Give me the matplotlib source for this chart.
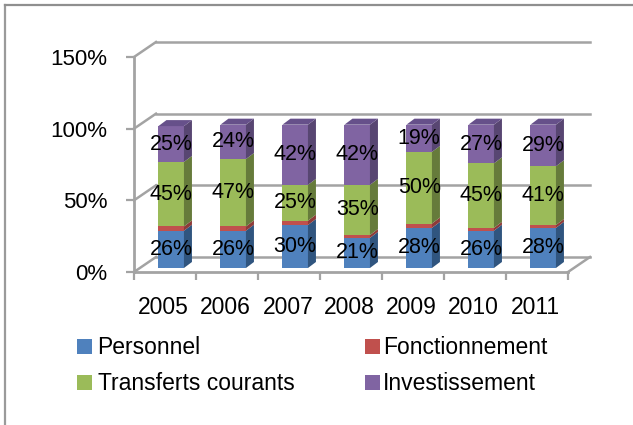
import matplotlib
matplotlib.use("Agg")
import matplotlib.pyplot as plt
from matplotlib.patches import Polygon, Rectangle

years = ["2005", "2006", "2007", "2008", "2009", "2010", "2011"]
names = ["Personnel", "Fonctionnement", "Transferts courants", "Investissement"]
personnel = [26, 26, 30, 21, 28, 26, 28]
fonctionnement = [3, 3, 3, 2, 3, 2, 2]
transferts = [45, 47, 25, 35, 50, 45, 41]
investissement = [25, 24, 42, 42, 19, 27, 29]
y_ticks = [0, 50, 100, 150]

series = [personnel, fonctionnement, transferts, investissement]
front_col = ["#4F81BD", "#C0504D", "#9BBB59", "#8064A2"]
side_col = ["#30557F", "#8E3B39", "#667B3B", "#584672"]
top_col = "#66508A"
grid_col = "#A3A3A3"

W, H = 633, 425
plt.rcParams["font.family"] = ["Liberation Sans", "DejaVu Sans"]

fig = plt.figure(figsize=(W / 100, H / 100), dpi=100)

# page frame
fig.add_artist(plt.Line2D([4.5 / W, 4.5 / W], [0, 1 - 5 / H], color="#9A9A9A", lw=1.6))
fig.add_artist(plt.Line2D([4.5 / W, 1], [1 - 5 / H, 1 - 5 / H], color="#8F8F8F", lw=1.6))

# axes box in pixels: x 134-568, y 272 (0%) - 57 (150%)
ax = fig.add_axes([134 / W, 1 - 272 / H, 434 / W, 215 / H])
ax.set_xlim(0, 7)
ax.set_ylim(0, 150)
ax.patch.set_visible(False)

px_x = 7 / 434
px_y = 150 / 215

for s in ["top", "right"]:
    ax.spines[s].set_visible(False)
for s in ["left", "bottom"]:
    ax.spines[s].set_color(grid_col)
    ax.spines[s].set_linewidth(2)

ax.set_yticks(y_ticks)
ax.set_yticklabels([f"{v}%" for v in y_ticks], fontsize=16)
ax.set_xticks(range(8))
ax.set_xticklabels([])
ax.set_xticks([i + 0.48 for i in range(7)], minor=True)
ax.set_xticklabels(years, minor=True, fontsize=16.5)
ax.tick_params(axis="both", which="major", color=grid_col, width=1.6, length=5.5)
ax.tick_params(axis="x", which="minor", length=0, pad=17)
ax.tick_params(axis="y", pad=13.5)

# walls
dx, dy = 22 * px_x, 15 * px_y
for v in y_ticks:
    ax.plot([0, dx], [v, v + dy], color=grid_col, lw=1.8, clip_on=False, zorder=1)
    ax.plot([dx, 7 + dx], [v + dy, v + dy], color=grid_col, lw=1.8, clip_on=False, zorder=1)
ax.plot([7, 7 + dx], [0, dy], color=grid_col, lw=1.8, clip_on=False, zorder=1)

# bars
bar_w = 25.5 * 7 / 434
lift = 4 * px_y
side_x, side_y = 8 * px_x, 6 * px_y
xs = [i + 0.6 for i in range(len(years))]
bottom = [lift] * len(years)
for values, fc, sc in zip(series, front_col, side_col):
    ax.bar(xs, values, bar_w, bottom=bottom, color=fc, zorder=3, clip_on=False)
    for x, b, v in zip(xs, bottom, values):
        r = x + bar_w / 2
        ax.add_patch(Polygon([(r, b), (r + side_x, b + side_y), (r + side_x, b + v + side_y), (r, b + v)],
                             fc=sc, ec="none", zorder=3, clip_on=False))
    bottom = [b + v for b, v in zip(bottom, values)]

for x, b in zip(xs, bottom):
    l, r = x - bar_w / 2, x + bar_w / 2
    ax.add_patch(Polygon([(l, b), (l + side_x, b + side_y), (r + side_x, b + side_y), (r, b)],
                         fc=top_col, ec="none", zorder=3, clip_on=False))

# data labels, the small red segment has none
bottom = [lift] * len(years)
for k, values in enumerate(series):
    for x, b, v in zip(xs, bottom, values):
        if k != 1:
            ax.text(x, b + v / 2, f"{v}%", ha="center", va="center", fontsize=15.5, color="black", zorder=5)
    bottom = [b + v for b, v in zip(bottom, values)]

# legend
leg_x = [77, 364.5]
leg_text_x = [97.5, 383]
leg_y = [346.5, 382.5]
order = [(0, 0), (1, 0), (0, 1), (1, 1)]
for name, col, (c, r) in zip(names, front_col, order):
    fig.add_artist(Rectangle((leg_x[c] / W, 1 - (leg_y[r] + 7.5) / H), 15 / W, 15 / H,
                             transform=fig.transFigure, fc=col, ec="none"))
    fig.text(leg_text_x[c] / W, 1 - (leg_y[r] + 1.5) / H, name, fontsize=16.5, va="center", ha="left", color="black")

fig.savefig("out.png", dpi=100)
